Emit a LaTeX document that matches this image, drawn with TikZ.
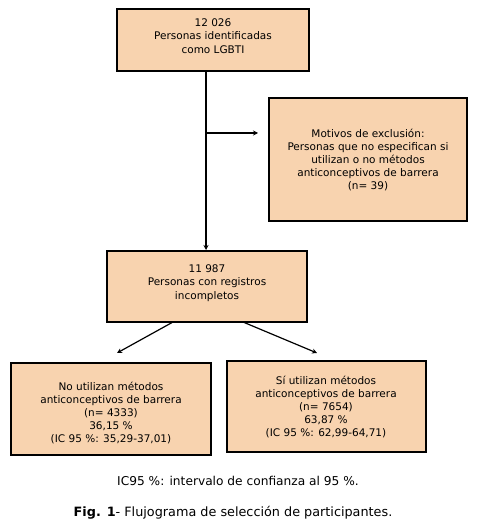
\documentclass[tikz,border=0pt]{standalone}
\usepackage{fontspec}
\setmainfont{DejaVu Sans}
\usetikzlibrary{arrows.meta}
\definecolor{peach}{RGB}{248,211,175}
\tikzset{
  box/.style={draw=black, line width=1.6pt, fill=peach},
  txt/.style={align=center, inner sep=0pt, font=\fontsize{10.5}{13.2}\selectfont},
  conn/.style={line width=1.2pt, -{Stealth[length=5pt,width=5pt]}},
}
\begin{document}
\begin{tikzpicture}[x=1pt,y=-1pt]
\useasboundingbox (0,0) rectangle (479,526);
\fill[white] (0,0) rectangle (479,526);
\draw[box] (117,9) rectangle (309,71);
\node[txt] (top) at (213,36) {12 026\\Personas identificadas\\como LGBTI};
\coordinate (topb) at (206,71);
\draw[box] (269,98) rectangle (467,221);
\node[txt] (excl) at (368,160) {Motivos de exclusión:\\Personas que no especifican si\\utilizan o no métodos\\anticonceptivos de barrera\\(n= 39)};
\coordinate (exclw) at (258,133);
\coordinate (branch) at (206,133);
\draw[box] (107,251) rectangle (307,322);
\node[txt] (mid) at (207,283) {11 987\\Personas con registros\\incompletos};
\coordinate (midt) at (206,250);
\coordinate (midbl) at (173,322);
\coordinate (midbr) at (243,322);
\draw[box] (11,363) rectangle (211,455);
\node[txt] (left) at (111,413) {No utilizan métodos\\anticonceptivos de barrera\\(n= 4333)\\36,15 \%\\(IC 95 \%: 35,29-37,01)};
\draw[box] (227,361) rectangle (426,452);
\node[txt] (right) at (326,407) {Sí utilizan métodos\\anticonceptivos de barrera\\(n= 7654)\\63,87 \%\\(IC 95 \%: 62,99-64,71)};
\coordinate (lt) at (117,353);
\coordinate (rt) at (317,353);
\draw[conn] (topb) -- (midt);
\draw[conn] (branch) -- (exclw);
\draw[conn] (midbl) -- (lt);
\draw[conn] (midbr) -- (rt);
\node[font=\fontsize{12.2}{14}\selectfont] (note) at (238,481) {IC95 \%: intervalo de confianza al 95 \%.};
\node[font=\fontsize{12.8}{14}\selectfont] (cap) at (233,513) {\textbf{Fig. 1}- Flujograma de selección de participantes.};
\end{tikzpicture}
\end{document}
